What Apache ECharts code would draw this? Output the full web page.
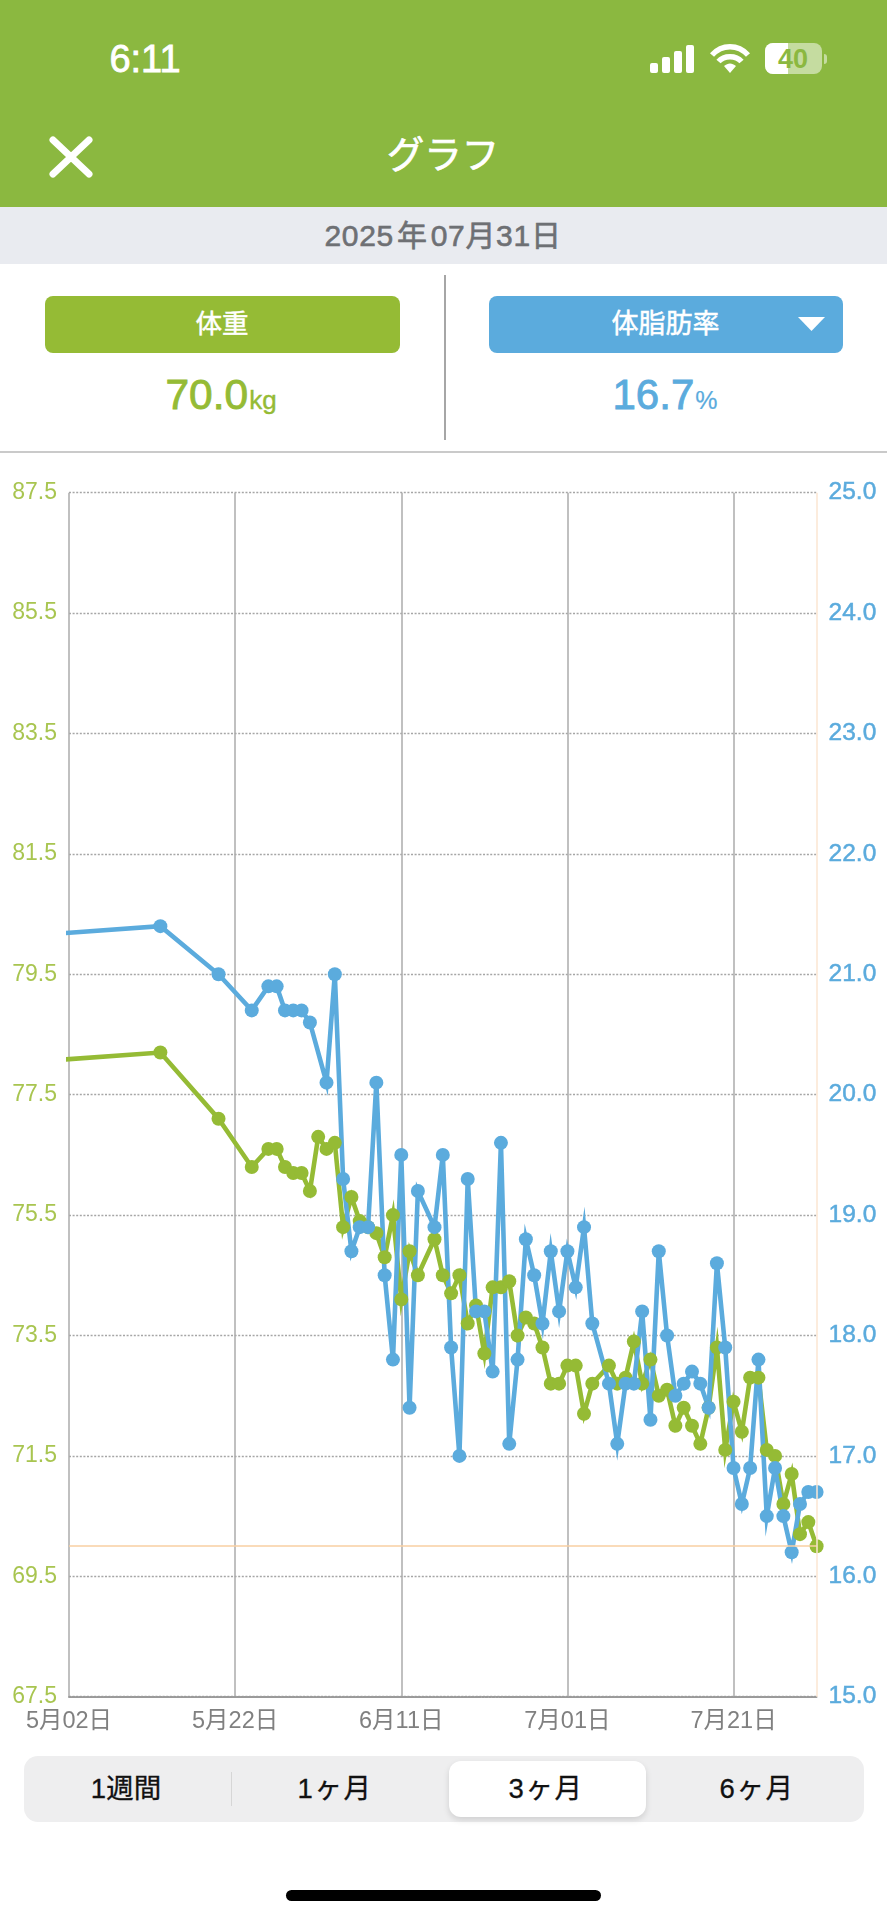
<!DOCTYPE html>
<html lang="ja">
<head>
<meta charset="utf-8">
<title>グラフ</title>
<script src="https://cdn.jsdelivr.net/npm/echarts@6/dist/echarts.min.js"></script>
<style>
html,body{margin:0;padding:0;background:#fff;}
body{width:887px;height:1920px;position:relative;overflow:hidden;font-family:"Liberation Sans","Noto Sans CJK JP",sans-serif;}
.a{position:absolute;}
.t{position:absolute;white-space:nowrap;text-align:center;transform:translate(-50%,-50%);line-height:1;}
#chart{position:absolute;left:0;top:452px;width:887px;height:1300px;}
</style>
</head>
<body>
<div class="a" style="left:0;top:0;width:887px;height:207px;background:#8BB840"></div>
<div class="t" style="left:145px;top:59px;font-size:38px;color:#fff;-webkit-text-stroke:.8px #fff;">6:11</div>
<svg class="a" style="left:648px;top:42px" width="104" height="34" viewBox="0 0 104 34">
 <g fill="#fff">
  <rect x="2" y="21" width="8" height="10" rx="2"/><rect x="14" y="15" width="8" height="16" rx="2"/>
  <rect x="26" y="9" width="8" height="22" rx="2"/><rect x="38" y="3" width="8" height="28" rx="2"/>
 </g>
 <g fill="none" stroke="#fff" stroke-width="5.5" stroke-linecap="butt">
  <path d="M64 13 C74 2 90 2 100 13"/><path d="M70.500 19.500 C76 13 88 13 93.500 19.500"/>
 </g>
 <path d="M76 24 C80 20.500 84 20.500 88 24 L82 31 Z" fill="#fff"/>
</svg>
<div class="a" style="left:765px;top:43px;width:57px;height:31px;border-radius:8px;background:rgba(255,255,255,.5);overflow:hidden;">
 <div class="a" style="left:0;top:0;width:23px;height:31px;background:#fff"></div>
</div>
<div class="t" style="left:793px;top:59px;font-size:27px;font-weight:700;color:#8BB840;">40</div>
<div class="a" style="left:824px;top:54px;width:3px;height:10px;border-radius:0 3px 3px 0;background:rgba(255,255,255,.5)"></div>
<svg class="a" style="left:46px;top:133px" width="50" height="48" viewBox="0 0 50 48">
 <path d="M7 7 L43 41 M43 7 L7 41" stroke="#fff" stroke-width="7" stroke-linecap="round" fill="none"/>
</svg>
<div class="t" style="left:443px;top:156px;font-size:37.500px;color:#fff;-webkit-text-stroke:.7px #fff;">グラフ</div>
<div class="a" style="left:0;top:207px;width:887px;height:57px;background:#E9EBF0"></div>
<div class="t" style="left:443px;top:236px;font-size:30px;color:#6E7074;letter-spacing:.7px;-webkit-text-stroke:.6px #6E7074;">2025<span style="margin:0 3px">年</span>07月31日</div>
<div class="a" style="left:45px;top:296px;width:355px;height:57px;border-radius:8px;background:#95BB35"></div>
<div class="t" style="left:222px;top:324px;font-size:26.500px;color:#fff;-webkit-text-stroke:.5px #fff;">体重</div>
<div class="a" style="left:489px;top:296px;width:354px;height:57px;border-radius:8px;background:#5BABDD"></div>
<div class="t" style="left:665.500px;top:324px;font-size:27px;color:#fff;-webkit-text-stroke:.5px #fff;">体脂肪率</div>
<svg class="a" style="left:798px;top:317px" width="27" height="14"><path d="M0 0 H27 L13.500 14 Z" fill="#fff"/></svg>
<div class="a" style="left:444px;top:275px;width:1.500px;height:165px;background:#A6A6A6"></div>
<div class="t" style="left:221px;top:395px;color:#95BB35;font-size:42.500px;-webkit-text-stroke:.9px #95BB35;">70.0<span style="font-size:26px;margin-left:1px;-webkit-text-stroke:.4px #95BB35;">kg</span></div>
<div class="t" style="left:665px;top:395px;color:#5BABDD;font-size:42px;-webkit-text-stroke:.9px #5BABDD;">16.7<span style="font-size:25px;margin-left:1px;-webkit-text-stroke:.2px #5BABDD;">%</span></div>
<div class="a" style="left:0;top:451px;width:887px;height:1.500px;background:#CACACA"></div>

<div id="chart"></div>

<div class="a" style="left:24px;top:1756px;width:840px;height:66px;border-radius:14px;background:#EEEEEF"></div>
<div class="a" style="left:230.500px;top:1772px;width:1px;height:34px;background:#D6D6D6"></div>
<div class="a" style="left:449px;top:1761px;width:197px;height:56px;border-radius:12px;background:#fff;box-shadow:0 3px 6px rgba(0,0,0,.13)"></div>
<div class="t" style="left:126px;top:1789px;font-size:27.500px;color:#111;-webkit-text-stroke:.3px #111;">1週間</div>
<div class="t" style="left:335px;top:1789px;font-size:27.500px;color:#111;letter-spacing:1.500px;-webkit-text-stroke:.3px #111;">1ヶ月</div>
<div class="t" style="left:546px;top:1789px;font-size:27.500px;color:#111;letter-spacing:1.500px;-webkit-text-stroke:.3px #111;">3ヶ月</div>
<div class="t" style="left:757px;top:1789px;font-size:27.500px;color:#111;letter-spacing:1.500px;-webkit-text-stroke:.3px #111;">6ヶ月</div>
<div class="a" style="left:286px;top:1890px;width:315px;height:11px;border-radius:6px;background:#000"></div>

<script>
// Days counted from 5月02日 (day 0); the first entry lies before the visible window.
var dayOffsets = [-9,11,18,22,24,25,26,27,28,29,30,31,32,33,34,35,36,37,38,39,40,41,42,44,45,46,47,48,49,50,51,52,53,54,55,56,57,58,59,60,61,62,63,65,66,67,68,69,70,71,72,73,74,75,76,77,78,79,80,81,82,83,84,85,86,87,88,89,90];
var weightKg = [78.0,78.2,77.1,76.3,76.6,76.6,76.3,76.2,76.2,75.9,76.8,76.6,76.7,75.3,75.8,75.4,75.3,75.2,74.8,75.5,74.1,74.9,74.5,75.1,74.5,74.2,74.5,73.7,74.0,73.2,74.3,74.3,74.4,73.5,73.8,73.7,73.3,72.7,72.7,73.0,73.0,72.2,72.7,73.0,72.7,72.8,73.4,72.7,73.1,72.5,72.6,72.0,72.3,72.0,71.7,72.3,73.3,71.6,72.4,71.9,72.8,72.8,71.6,71.5,70.7,71.2,70.2,70.4,70.0];
var fatDays = [-9,11,18,22,24,25,26,27,28,29,31,32,33,34,35,36,37,38,39,40,41,42,44,45,46,47,48,49,50,51,52,53,54,55,56,57,58,59,60,61,62,63,65,66,67,68,69,70,71,72,73,74,75,76,77,78,79,80,81,82,83,84,85,86,87,88,89,90];
var fatPct = [21.3,21.4,21.0,20.7,20.9,20.9,20.7,20.7,20.7,20.6,20.1,21.0,19.3,18.7,18.9,18.9,20.1,18.5,17.8,19.5,17.4,19.2,18.9,19.5,17.9,17.0,19.3,18.2,18.2,17.7,19.6,17.1,17.8,18.8,18.5,18.1,18.7,18.2,18.7,18.4,18.9,18.1,17.6,17.1,17.6,17.6,18.2,17.3,18.7,18.0,17.5,17.6,17.7,17.6,17.4,18.6,17.9,16.9,16.6,16.9,17.8,16.5,16.9,16.5,16.2,16.6,16.7,16.7];
var xTickLabels = {0:'5月02日',20:'5月22日',40:'6月11日',60:'7月01日',80:'7月21日'};
var selectedDay = 90;
var selectedWeight = 70.0;

var GREEN = '#95BB35', BLUE = '#5BABDD';
function pairs(xs, ys){ return xs.map(function(x,i){ return [x, ys[i]]; }); }
function lineSeries(name, color, yAxisIndex, data, extra){
  return Object.assign({
    name:name, type:'line', yAxisIndex:yAxisIndex, data:data, clip:true,
    symbol:'circle', symbolSize:14, showAllSymbol:true, animation:false,
    lineStyle:{color:color,width:4.6,join:'miter',miterLimit:10},
    itemStyle:{color:color}
  }, extra||{});
}
var chart = echarts.init(document.getElementById('chart'), null, {renderer:'canvas'});
chart.setOption({
  animation:false,
  grid:{left:69,right:70.4,top:40.7,bottom:1300-1244.7,containLabel:false},
  xAxis:{
    type:'value',min:0,max:90,interval:20,
    axisLine:{show:true,onZero:false,lineStyle:{color:'#9A9A9A',width:2,type:[2,1.5]}},
    axisTick:{show:false},
    axisLabel:{fontSize:23.5,color:'#808080',margin:13,showMaxLabel:false,
      fontFamily:'"Liberation Sans","Noto Sans CJK JP",sans-serif',
      formatter:function(v){return xTickLabels[v]||'';}},
    splitLine:{show:true,showMaxLine:false,lineStyle:{color:'#ABABAB',width:1.5,type:'solid'}}
  },
  yAxis:[
    {type:'value',position:'left',min:67.5,max:87.5,interval:2,
     axisLine:{show:false},axisTick:{show:false},
     axisLabel:{fontSize:23,color:'#A8C550',margin:12,fontFamily:'"Liberation Sans",sans-serif',
       formatter:function(v){return v.toFixed(1);}},
     splitLine:{show:true,lineStyle:{color:'#A6A6A6',width:1.4,type:[2,1.6]}}},
    {type:'value',position:'right',min:15,max:25,interval:1,
     axisLine:{show:false},axisTick:{show:false},
     axisLabel:{fontSize:24.5,color:BLUE,margin:12,fontFamily:'"Liberation Sans",sans-serif',
       textBorderColor:BLUE,textBorderWidth:.5,
       formatter:function(v){return v.toFixed(1);}},
     splitLine:{show:false}}
  ],
  series:[
    lineSeries('体重',GREEN,0,pairs(dayOffsets,weightKg),{
      markLine:{silent:true,symbol:'none',animation:false,label:{show:false},
        data:[
          {yAxis:selectedWeight,lineStyle:{color:'#F8CFA2',width:1.5,type:'solid'}},
          {xAxis:selectedDay,lineStyle:{color:'#FBE6D2',width:1.5,type:'solid'}}
        ]}
    }),
    lineSeries('体脂肪率',BLUE,1,pairs(fatDays,fatPct))
  ]
});
</script>
</body>
</html>
